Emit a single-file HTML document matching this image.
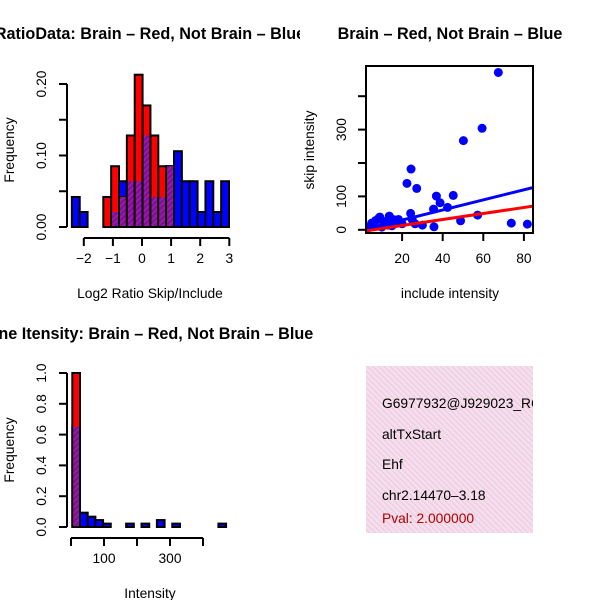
<!DOCTYPE html>
<html><head><meta charset="utf-8"><style>
html,body{margin:0;padding:0;background:#fff;}
svg{display:block;font-family:"Liberation Sans",sans-serif;}
</style></head><body>
<svg id="c" width="600" height="600" viewBox="0 0 600 600">
<defs>
<pattern id="hatch" width="4" height="4" patternUnits="userSpaceOnUse" patternTransform="rotate(45)">
<rect width="4" height="4" fill="#9a1aa8"/><rect width="2" height="4" fill="#7a0f96"/></pattern>
<pattern id="pink" width="4" height="4" patternUnits="userSpaceOnUse" patternTransform="rotate(-45)">
<rect width="4" height="4" fill="#f8dcf0"/><rect width="1.2" height="4" fill="#e8d0d8"/></pattern>
<clipPath id="clipSc"><rect x="367" y="67" width="166" height="165"/></clipPath>
<clipPath id="clipInfo"><rect x="366" y="366" width="167" height="167"/></clipPath>
<clipPath id="clipT1"><rect x="0" y="0" width="300" height="60"/></clipPath>
<clipPath id="clipT3"><rect x="0" y="300" width="329" height="60"/></clipPath>
</defs>
<g id="g1"></g>
<g id="g2"></g>
<g id="g3"></g>
<g clip-path="url(#clipInfo)">
<rect x="366" y="366" width="167" height="167" fill="url(#pink)"/>
<text x="382" y="408" font-size="13.8">G6977932@J929023_RC</text>
<text x="382" y="439" font-size="13.8">altTxStart</text>
<text x="382" y="469" font-size="13.8">Ehf</text>
<text x="382" y="500" font-size="13.8">chr2.14470–3.18</text>
<text x="382" y="523" font-size="13.8" fill="#b00000">Pval: 2.000000</text>
</g>
</svg>
<script>
// ---- Panel 1 data: log2 ratio histogram ----
const ratioBinStart = -2.41;
const ratioBinWidth = 0.27;
const ratioBlue = [0.042,0.021,0,0,0,0.021,0.064,0.064,0.064,0.128,0.042,0.042,0.085,0.106,0.064,0.064,0.021,0.064,0.021,0.064];
const ratioRed  = [0,0,0,0,0.042,0.085,0.042,0.128,0.213,0.170,0.128,0.085,0.085,0,0,0,0,0,0,0];
const ratioXTicks = [-2,-1,0,1,2,3];
const ratioYTicks = [0,0.05,0.10,0.15,0.20];
const ratioYLabels = ["0.00","","0.10","","0.20"];
// ---- Panel 2 data: scatter ----
const scX = [67.4,59.4,50.2,24.4,22.4,27.2,36.9,45.2,38.7,42.4,35.5,24.2,57.2,48.8,73.8,81.7,35.7,13.7,8.3,18.2,26.4,5,7,9,11,13,16,20,4,6,10,12,15,17,3,25,30];
const scY = [471,304,267,182,139,124,101,103,81,67,62,49,44,27,20,17,9,41,33,31,18,20,28,38,25,14,30,18,8,12,8,20,12,22,5,30,14];
const blueFit = [-1.0,1.51];
const redFit = [-5.2,0.9];
const scXTicks = [20,40,60,80];
const scYTicks = [0,100,200,300,400];
const scYLabels = ["0","100","","300",""];
// ---- Panel 3 data: intensity histogram ----
const intBinStart = 4;
const intBinWidth = 23.3;
const intBlue = [0.65,0.093,0.067,0.045,0.022,0,0,0.022,0,0.022,0,0.045,0,0.022,0,0,0,0,0,0.022];
const intRed  = [1.0,0,0,0,0,0,0,0,0,0,0,0,0,0,0,0,0,0,0,0];
const intXTicks = [0,100,200,300,400];
const intXLabels = ["","100","","300",""];
const intYTicks = [0,0.2,0.4,0.6,0.8,1.0];
const intYLabels = ["0.0","0.2","0.4","0.6","0.8","1.0"];

const NS="http://www.w3.org/2000/svg";
const LBL=13.8, TTL=16.2;
function mk(parent,tag,attrs){const e=document.createElementNS(NS,tag);for(const k in attrs)e.setAttribute(k,attrs[k]);parent.appendChild(e);return e;}
function txt(parent,x,y,s,size,opts){const t=mk(parent,'text',{x:x,y:y,'font-size':size,'text-anchor':'middle'});if(opts&&opts.bold)t.setAttribute('font-weight','bold');if(opts&&opts.rot)t.setAttribute('transform','rotate(-90 '+x+' '+y+')');if(opts&&opts.clip)t.setAttribute('clip-path','url(#'+opts.clip+')');t.textContent=s;return t;}

function histogram(g,binStart,binW,blue,red,sx,sy,y0){
  for(let i=0;i<blue.length;i++){
    const x0=sx(binStart+i*binW),x1=sx(binStart+(i+1)*binW);
    const b=blue[i],r=red[i];
    if(b>0){const e=mk(g,'rect',{x:x0,y:sy(b),width:x1-x0,height:y0-sy(b),fill:'#0000ff',stroke:'#000','stroke-width':2});
      
      }
    if(r>0){const e=mk(g,'rect',{x:x0,y:sy(r),width:x1-x0,height:y0-sy(r),fill:'#ff0000',stroke:'#000','stroke-width':2});
      
      }
    const m=Math.min(b,r);
    if(m>0){const e=mk(g,'rect',{x:x0+1,y:sy(m),width:x1-x0-2,height:y0-sy(m)-1,fill:'url(#hatch)'});
      
      }
  }
}

// Panel 1
(function(){
  const g=document.getElementById('g1');
  const sx=v=>142+v*29.1, sy=v=>227-v*715;
  histogram(g,ratioBinStart,ratioBinWidth,ratioBlue,ratioRed,sx,sy,227);
  const ya=mk(g,'line',{x1:67,y1:sy(0),x2:67,y2:sy(0.2),stroke:'#000','stroke-width':2});
  
  
  ratioYTicks.forEach((v,i)=>{mk(g,'line',{x1:59,y1:sy(v),x2:67,y2:sy(v),stroke:'#000','stroke-width':2});
    if(ratioYLabels[i]){const t=txt(g,46,sy(v),ratioYLabels[i],LBL,{rot:true});
      
      }});
  const xa=mk(g,'line',{x1:sx(-2),y1:238,x2:sx(3),y2:238,stroke:'#000','stroke-width':2});
  
  
  ratioXTicks.forEach(v=>{mk(g,'line',{x1:sx(v),y1:238,x2:sx(v),y2:246,stroke:'#000','stroke-width':2});
    const t=txt(g,sx(v),263,String(v).replace('-','−'),LBL);
    
    });
  let t=txt(g,150,39,'RatioData: Brain – Red, Not Brain – Blue',TTL,{bold:true,clip:'clipT1'});
  
  
  t=txt(g,150,298,'Log2 Ratio Skip/Include',LBL);
  
  
  t=txt(g,14,150,'Frequency',LBL,{rot:true});
  
  
})();

// Panel 2
(function(){
  const g=document.getElementById('g2');
  const sx=v=>361.5+v*2.03, sy=v=>229.8-v*0.334;
  const pg=mk(g,'g',{'clip-path':'url(#clipSc)'});
  for(let i=0;i<scX.length;i++){const c=mk(pg,'circle',{cx:sx(scX[i]),cy:sy(scY[i]),r:4.5,fill:'#0000ff'});
    
    }
  const bl=mk(pg,'line',{x1:sx(2),y1:sy(blueFit[0]+blueFit[1]*2),x2:sx(90),y2:sy(blueFit[0]+blueFit[1]*90),stroke:'#0000ff','stroke-width':3});
  
  
  const rl=mk(pg,'line',{x1:sx(2),y1:sy(redFit[0]+redFit[1]*2),x2:sx(90),y2:sy(redFit[0]+redFit[1]*90),stroke:'#ff0000','stroke-width':3});
  
  
  const b=mk(g,'rect',{x:366,y:66,width:167,height:167,fill:'none',stroke:'#000','stroke-width':2});
  
  
  scXTicks.forEach(v=>{mk(g,'line',{x1:sx(v),y1:233,x2:sx(v),y2:241,stroke:'#000','stroke-width':2});
    const t=txt(g,sx(v),263,String(v),LBL);
    
    });
  scYTicks.forEach((v,i)=>{mk(g,'line',{x1:358,y1:sy(v),x2:366,y2:sy(v),stroke:'#000','stroke-width':2});
    if(scYLabels[i]){const t=txt(g,346,sy(v),scYLabels[i],LBL,{rot:true});
      
      }});
  let t=txt(g,450,39,'Brain – Red, Not Brain – Blue',TTL,{bold:true});
  
  
  t=txt(g,450,298,'include intensity',LBL);
  
  
  t=txt(g,314,150,'skip intensity',LBL,{rot:true});
  
  
})();

// Panel 3
(function(){
  const g=document.getElementById('g3');
  const sx=v=>71+v*0.33, sy=v=>527-v*154;
  histogram(g,intBinStart,intBinWidth,intBlue,intRed,sx,sy,527);
  const ya=mk(g,'line',{x1:67,y1:sy(0),x2:67,y2:sy(1),stroke:'#000','stroke-width':2});
  
  
  intYTicks.forEach((v,i)=>{mk(g,'line',{x1:59,y1:sy(v),x2:67,y2:sy(v),stroke:'#000','stroke-width':2});
    const t=txt(g,46,sy(v),intYLabels[i],LBL,{rot:true});
    
    });
  const xa=mk(g,'line',{x1:sx(0),y1:538,x2:sx(400),y2:538,stroke:'#000','stroke-width':2});
  
  
  intXTicks.forEach((v,i)=>{mk(g,'line',{x1:sx(v),y1:538,x2:sx(v),y2:546,stroke:'#000','stroke-width':2});
    if(intXLabels[i]){const t=txt(g,sx(v),563,intXLabels[i],LBL);
      
      }});
  let t=txt(g,145,339,'Gene Itensity: Brain – Red, Not Brain – Blue',TTL,{bold:true,clip:'clipT3'});
  
  
  t=txt(g,150,598,'Intensity',LBL);
  
  
  t=txt(g,14,450,'Frequency',LBL,{rot:true});
  
  
})();
</script>
</body></html>
